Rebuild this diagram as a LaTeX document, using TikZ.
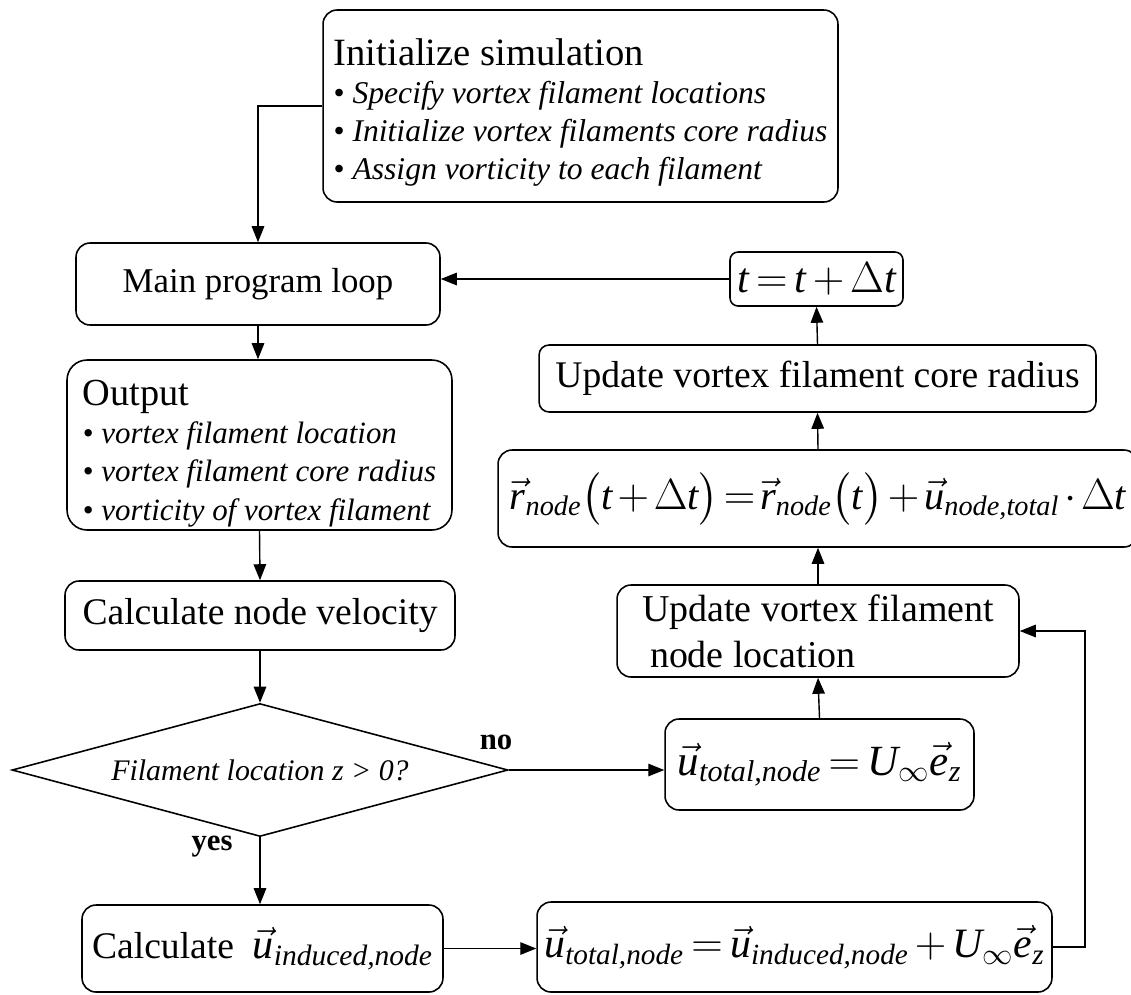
\documentclass[tikz,border=0pt]{standalone}
\usepackage{amsmath}
\usepackage{fontspec}
\setmainfont{Liberation Serif}
\usetikzlibrary{arrows.meta}
\usetikzlibrary{shapes.geometric}

\newcommand{\vi}[1]{\textit{#1}}
\newcommand{\tightmath}{\thickmuskip=3mu\relax\medmuskip=2.5mu\relax}
\newcommand{\tightermath}{\thickmuskip=2mu\relax\medmuskip=2mu\relax}

\begin{document}
\begin{tikzpicture}[x=0.02cm, y=-0.02cm,
        box/.style={draw, line width=0.9pt, rounded corners=0.28cm, inner sep=0pt,
            font=\fontsize{21.4}{25}\selectfont},
        listbox/.style={box, align=left, font=\fontsize{18}{21.6}\selectfont},
        mathbox/.style={box, font=\fontsize{24}{28}\selectfont},
        decision/.style={draw, diamond, aspect=3.73, line width=0.9pt, inner sep=0pt,
            font=\fontsize{17}{20}\selectfont\itshape},
        answer/.style={font=\fontsize{17.5}{20}\selectfont\bfseries},
        flow/.style={line width=0.8pt, -{Triangle[length=0.32cm,width=0.25cm]}}]
    \useasboundingbox (0,0) rectangle (1131,994);
        % left column
        \node[listbox, minimum width=10.3cm, minimum height=3.84cm] (init) at (580.5,106)
            {\rule{0pt}{23pt}{\fontsize{22}{21.6}\selectfont Initialize simulation}\\
             \textbullet\ \textit{Specify vortex filament locations}\\
             \textbullet\ \textit{Initialize vortex filaments core radius}\\
             \textbullet\ \textit{Assign vorticity to each filament}};
        \node[box, font=\fontsize{19.8}{24}\selectfont, minimum width=7.28cm, minimum height=1.64cm] (mainloop) at (258,284) {Main program loop};
        \node[listbox, rounded corners=0.4cm, minimum width=7.7cm, minimum height=3.4cm,
            font=\fontsize{17.6}{21.8}\selectfont] (output) at (259.5,445)
            {\rule{0pt}{24pt}{\fontsize{21.8}{21.8}\selectfont Output}\\
             \textbullet\ \textit{vortex filament location}\\
             \textbullet\ \textit{vortex filament core radius}\\
             \textbullet\ \textit{vorticity of vortex filament}};
        \node[box, minimum width=7.8cm, minimum height=1.38cm] (calcvel) at (260,615.5) {Calculate node velocity};
        \node[decision, minimum width=9.92cm, minimum height=2.66cm] (decide) at (260,770) {Filament location z > 0?};
        \node[box, minimum width=7.22cm, minimum height=1.74cm] (calcind) at (262.5,948.5)
            {Calculate\ \ {\fontsize{24}{28}\selectfont$\vec{\vi{u}}_{\vi{induced,node}}$}};
        % right column
        \node[mathbox, rounded corners=0.16cm, minimum width=3.46cm, minimum height=1.08cm] (tbox) at (816.5,279)
            {$\tightmath\vi{t}=\vi{t}+\Delta\vi{t}$};
        \node[box, rounded corners=0.2cm, minimum width=11.14cm, minimum height=1.34cm] (corebox) at (817.5,378.5)
            {Update vortex filament core radius};
        \node[mathbox, font=\fontsize{23}{28}\selectfont, minimum width=12.8cm, minimum height=1.94cm] (rbox) at (818,498.5)
            {$\tightermath\vec{\vi{r}}_{\vi{node}}\bigl(\vi{t}+\Delta\vi{t}\bigr)=\vec{\vi{r}}_{\vi{node}}\bigl(\vi{t}\bigr)+\vec{\vi{u}}_{\vi{node,total}}\cdot\Delta\vi{t}$};
        \node[box, align=left, font=\fontsize{21.6}{26}\selectfont, minimum width=8.04cm, minimum height=1.84cm] (updbox) at (818,631)
            {Update vortex filament\\ \hspace{0.16cm}node location};
        \node[mathbox, font=\fontsize{24.5}{30}\selectfont, minimum width=6.18cm, minimum height=1.82cm] (ubox) at (819.5,764.5)
            {$\tightmath\vec{\vi{u}}_{\vi{total,node}}=\vi{U}_{\infty}\vec{\vi{e}}_{\vi{z}}$};
        \node[mathbox, font=\fontsize{23.8}{30}\selectfont, minimum width=10.3cm, minimum height=1.8cm] (totbox) at (794.5,947)
            {$\tightmath\vec{\vi{u}}_{\vi{total,node}}=\vec{\vi{u}}_{\vi{induced,node}}+\vi{U}_{\infty}\vec{\vi{e}}_{\vi{z}}$};
        \node[answer] (yeslbl) at (212,847) {yes};
        \node[answer] (nolbl) at (496,742) {no};
        \coordinate (bend) at (1085,947);
        % connectors
        \draw[flow] (init.west) -| (mainloop.north);
        \draw[flow] (tbox.west) -- (mainloop.east |- tbox.west);
        \draw[flow] (mainloop.south) -- (mainloop.south |- output.north);
        \draw[flow] (output.south) -- (calcvel.north);
        \draw[flow] (calcvel.south) -- (decide.north);
        \draw[flow] (decide.south) -- (decide.south |- calcind.north);
        \draw[flow] (decide.east) -- (decide.east -| ubox.west);
        \draw[flow] (calcind.east) -- (calcind.east -| totbox.west);
        \draw[flow] (totbox.east) -- (bend) |- (updbox.east);
        \draw[flow] (ubox.north) -- (updbox.south);
        \draw[flow] (updbox.north) -- (rbox.south);
        \draw[flow] (rbox.north) -- (corebox.south);
        \draw[flow] (corebox.north) -- (tbox.south);
    \end{tikzpicture}
\end{document}
